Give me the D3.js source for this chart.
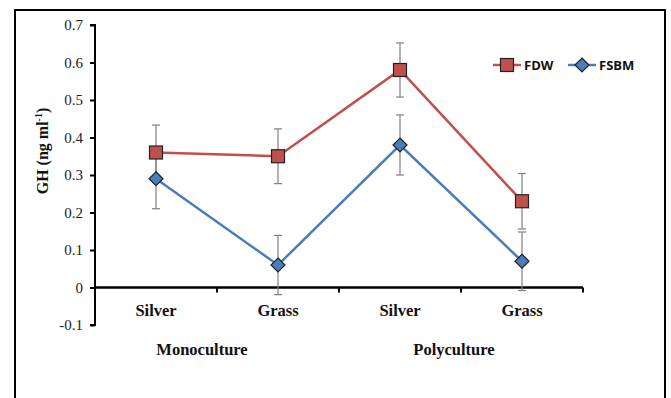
<!DOCTYPE html>
<html>
<head>
<meta charset="utf-8">
<script src="https://cdn.jsdelivr.net/npm/d3@7"></script>
<style>
  body { margin: 0; background: #fff; }
  svg { display: block; }
</style>
</head>
<body>
<div id="chart"></div>
<script>
// Chart data
const categories = ['Silver', 'Grass', 'Silver', 'Grass'];
const groups = ['Monoculture', 'Polyculture'];
const fdw = [0.36, 0.35, 0.58, 0.23];
const fdwErr = [0.073, 0.073, 0.072, 0.074];
const fsbm = [0.29, 0.06, 0.38, 0.07];
const fsbmErr = [0.08, 0.079, 0.08, 0.078];
const yTicks = [-0.1, 0, 0.1, 0.2, 0.3, 0.4, 0.5, 0.6, 0.7];
const yTickLabels = ['-0.1', '0', '0.1', '0.2', '0.3', '0.4', '0.5', '0.6', '0.7'];

const width = 671, height = 398;
const serif = '"Liberation Serif", "Times New Roman", serif';

const svg = d3.select('#chart')
  .append('svg')
    .attr('width', width)
    .attr('height', height);

// outer frame
svg.append('rect')
  .attr('x', 15).attr('y', 10)
  .attr('width', 650).attr('height', 400)
  .attr('fill', 'none')
  .attr('stroke', '#000')
  .attr('stroke-width', 2);

const x = d3.scaleBand()
  .domain(d3.range(categories.length))
  .range([95, 583]);

const y = d3.scaleLinear()
  .domain([-0.1, 0.7])
  .range([325, 25]);

// y axis
const yAxis = svg.append('g')
  .attr('transform', 'translate(95,0)')
  .call(d3.axisLeft(y).tickValues(yTicks).tickSize(5).tickPadding(7)
    .tickFormat((d, i) => yTickLabels[i]));
yAxis.attr('font-family', serif).attr('font-size', 15);
yAxis.select('.domain').attr('stroke-width', 2).attr('d', 'M-5,' + y(0.7) + 'H0V' + y(-0.1) + 'H-5');
yAxis.selectAll('.tick line').attr('stroke-width', 2);
yAxis.selectAll('.tick text').attr('fill', '#222');

// x axis on zero line
const xAxis = svg.append('g')
  .attr('transform', 'translate(0,' + y(0) + ')');
xAxis.append('line')
  .attr('x1', 95).attr('x2', 583)
  .attr('stroke', '#000').attr('stroke-width', 2.5);
xAxis.selectAll('.ctick')
  .data(d3.range(1, categories.length + 1))
  .join('line')
    .attr('x1', i => x(0) + i * x.step())
    .attr('x2', i => x(0) + i * x.step())
    .attr('y1', 0).attr('y2', 5)
    .attr('stroke', '#000').attr('stroke-width', 2);

svg.selectAll('.cat')
  .data(categories)
  .join('text')
    .attr('x', (d, i) => x(i) + x.bandwidth() / 2)
    .attr('y', 316)
    .attr('text-anchor', 'middle')
    .attr('font-family', serif)
    .attr('font-weight', 'bold')
    .attr('font-size', 16.5)
    .attr('fill', '#111')
    .text(d => d);

svg.selectAll('.grp')
  .data(groups)
  .join('text')
    .attr('x', (d, i) => x(i * 2) + x.step() - 15 + i * 8)
    .attr('y', 355)
    .attr('text-anchor', 'middle')
    .attr('font-family', serif)
    .attr('font-weight', 'bold')
    .attr('font-size', 16.5)
    .attr('fill', '#111')
    .text(d => d);

// y label
const yl = svg.append('text')
  .attr('transform', 'translate(48,151) rotate(-90)')
  .attr('text-anchor', 'middle')
  .attr('font-family', serif)
  .attr('font-weight', 'bold')
  .attr('font-size', 16)
  .attr('fill', '#111');
yl.append('tspan').text('GH (ng ml');
yl.append('tspan').attr('font-size', 10).attr('dy', -6).text('-1');
yl.append('tspan').attr('dy', 6).text(')');

const cx = i => x(i) + x.bandwidth() / 2;

const series = [
  {name: 'FDW', values: fdw, err: fdwErr, color: '#C0504D', shape: 'square'},
  {name: 'FSBM', values: fsbm, err: fsbmErr, color: '#4A7EBB', shape: 'diamond'}
];

const line = d3.line()
  .x((d, i) => cx(i))
  .y(d => y(d));

// error bars
series.forEach(s => {
  const g = svg.append('g').attr('stroke', '#7f7f7f').attr('stroke-width', 1.2);
  s.values.forEach((v, i) => {
    const lo = y(v - s.err[i]), hi = y(v + s.err[i]);
    g.append('line').attr('x1', cx(i)).attr('x2', cx(i)).attr('y1', lo).attr('y2', hi);
    g.append('line').attr('x1', cx(i) - 4).attr('x2', cx(i) + 4).attr('y1', lo).attr('y2', lo);
    g.append('line').attr('x1', cx(i) - 4).attr('x2', cx(i) + 4).attr('y1', hi).attr('y2', hi);
  });
});

function marker(g, shape, color, px, py) {
  if (shape === 'square') {
    g.append('rect')
      .attr('x', px - 6.5).attr('y', py - 6.5)
      .attr('width', 13).attr('height', 13)
      .attr('fill', color).attr('stroke', '#222').attr('stroke-width', 1.2);
  } else {
    g.append('path')
      .attr('d', `M${px},${py - 7}L${px + 7},${py}L${px},${py + 7}L${px - 7},${py}Z`)
      .attr('fill', color).attr('stroke', '#222').attr('stroke-width', 1.2);
  }
}

series.forEach(s => {
  svg.append('path')
    .datum(s.values)
    .attr('d', line)
    .attr('fill', 'none')
    .attr('stroke', s.color)
    .attr('stroke-width', 2.5);
  const g = svg.append('g');
  s.values.forEach((v, i) => marker(g, s.shape, s.color, cx(i), y(v)));
});

// legend
const legendX = [493, 568];
series.forEach((s, i) => {
  const lg = svg.append('g').attr('transform', `translate(${legendX[i]},65)`);
  lg.append('line').attr('x1', 0).attr('x2', 28)
    .attr('stroke', s.color).attr('stroke-width', 2.5);
  marker(lg, s.shape, s.color, 14, 0);
  lg.append('text')
    .attr('x', 31).attr('y', 5)
    .attr('font-family', '"Open Sans", sans-serif')
    .attr('font-weight', 'bold')
    .attr('font-size', 13)
    .attr('fill', '#111')
    .text(s.name);
});
</script>
</body>
</html>
